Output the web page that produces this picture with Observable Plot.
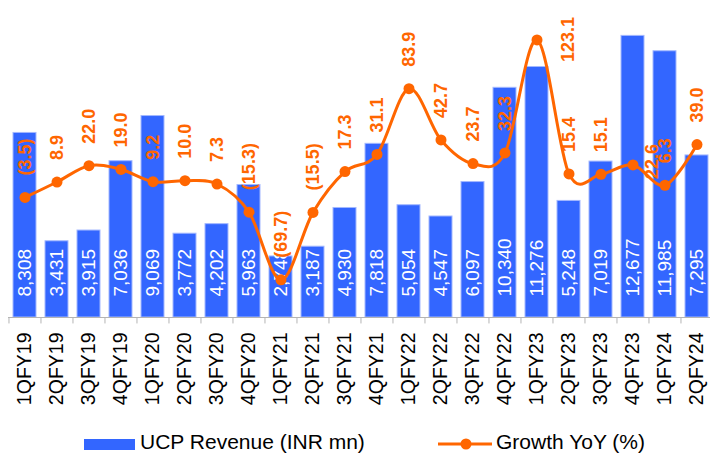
<!DOCTYPE html>
<html><head><meta charset="utf-8">
<script src="https://cdn.jsdelivr.net/npm/d3@7"></script>
<script src="https://cdn.jsdelivr.net/npm/@observablehq/plot@0.6"></script>
<style>
html,body{margin:0;padding:0;background:#fff;}
body{width:710px;height:454px;overflow:hidden;font-family:"Liberation Sans",Arial,Helvetica,sans-serif;}
#chart{position:relative;width:710px;height:454px;}
#chart svg.plot{position:absolute;left:0;top:0;overflow:visible;}
.lg-swatch{position:absolute;left:84px;top:439px;width:51px;height:11px;background:#3366ff;}
.lg-text{position:absolute;top:432px;font-size:21px;line-height:19px;height:19px;color:#000;white-space:nowrap;}
.lg-line{position:absolute;left:436px;top:436px;}
</style>
</head><body>
<div id="chart"></div>
<script>
// ---- data ----
const quarters = ["1QFY19","2QFY19","3QFY19","4QFY19","1QFY20","2QFY20","3QFY20","4QFY20","1QFY21","2QFY21","3QFY21","4QFY21","1QFY22","2QFY22","3QFY22","4QFY22","1QFY23","2QFY23","3QFY23","4QFY23","1QFY24","2QFY24"];
const revenue = [8308,3431,3915,7036,9069,3772,4202,5963,2748,3187,4930,7818,5054,4547,6097,10340,11276,5248,7019,12677,11985,7295];
const growth = [-3.5,8.9,22.0,19.0,9.2,10.0,7.3,-15.3,-69.7,-15.5,17.3,31.1,83.9,42.7,23.7,32.3,123.1,15.4,15.1,22.6,6.3,39.0];
const revenueDomain = [0, 14000];
const growthDomain = [-100, 150];
const seriesNames = ["UCP Revenue (INR mn)", "Growth YoY (%)"];

// ---- build ----
const BLUE = "#3366ff", ORANGE = "#ff6600", GRID = "#b4b4b4";
const toRev = v => revenueDomain[0] + (v - growthDomain[0]) * (revenueDomain[1] - revenueDomain[0]) / (growthDomain[1] - growthDomain[0]);
const fmtRev = d3.format(",");
const fmtG = v => v < 0 ? `(${d3.format(".1f")(-v)})` : d3.format(".1f")(v);
const rows = quarters.map((q, i) => ({q, rev: revenue[i], g: growth[i], gy: toRev(growth[i])}));
const special = {"1QFY23": {dx: 31, dy: 22}, "4QFY23": {dx: 19, dy: 14}};
const normalRows = rows.filter(d => !special[d.q]);
const FONT = '"Liberation Sans", Arial, Helvetica, sans-serif';
const step = (713.4 - 8.3) / quarters.length;

const growthLabel = (data, dx, dy) => Plot.text(data, {
  x: "q", y: "gy", text: d => fmtG(d.g), rotate: -90, textAnchor: "start",
  dx, dy, fill: ORANGE, fontWeight: "bold", fontSize: 18
});

const plot = Plot.plot({
  width: 710, height: 425,
  marginTop: 6, marginBottom: 108, marginLeft: 8, marginRight: 0,
  style: {fontFamily: FONT, background: "transparent", overflow: "visible"},
  x: {domain: quarters, range: [8.3, 713.4], paddingInner: 0.29, paddingOuter: 0.145, label: null},
  y: {domain: revenueDomain, axis: null},
  marks: [
    Plot.barY(rows, {x: "q", y: "rev", fill: BLUE, stroke: "#a3b8ff", strokeWidth: 1}),
    Plot.text(rows, {x: "q", y: 0, text: d => fmtRev(d.rev), rotate: -90, textAnchor: "start", dy: -21, fill: "#fff", fontSize: 19}),
    Plot.ruleY([0], {stroke: GRID}),
    Plot.ruleX(quarters, {x: d => d, dx: -step / 2, y1: 0, y2: -290, stroke: GRID}),
    Plot.line(rows, {x: "q", y: "gy", curve: "cardinal", stroke: ORANGE, strokeWidth: 3}),
    Plot.dot(rows, {x: "q", y: "gy", r: 5.5, fill: ORANGE}),
    growthLabel(normalRows, 0, -22),
    ...Object.entries(special).map(([q, o]) => growthLabel(rows.filter(d => d.q === q), o.dx, o.dy)),
    Plot.axisX({tickRotate: -90, tickSize: 0, tickPadding: 15, fontSize: 19.5, fill: "#000", label: null})
  ]
});
plot.classList.add("plot");
const chart = document.getElementById("chart");
chart.appendChild(plot);

// legend
const sw = document.createElement("div"); sw.className = "lg-swatch"; chart.appendChild(sw);
const t1 = document.createElement("span"); t1.className = "lg-text"; t1.style.left = "140px"; t1.textContent = seriesNames[0]; chart.appendChild(t1);
const ln = document.createElementNS("http://www.w3.org/2000/svg", "svg");
ln.setAttribute("class", "lg-line"); ln.setAttribute("width", 60); ln.setAttribute("height", 16);
ln.innerHTML = `<line x1="2" x2="56" y1="8" y2="8" stroke="${ORANGE}" stroke-width="3"/><circle cx="30" cy="8" r="5.5" fill="${ORANGE}"/>`;
chart.appendChild(ln);
const t2 = document.createElement("span"); t2.className = "lg-text"; t2.style.left = "496px"; t2.textContent = seriesNames[1]; chart.appendChild(t2);
</script>
</body></html>
